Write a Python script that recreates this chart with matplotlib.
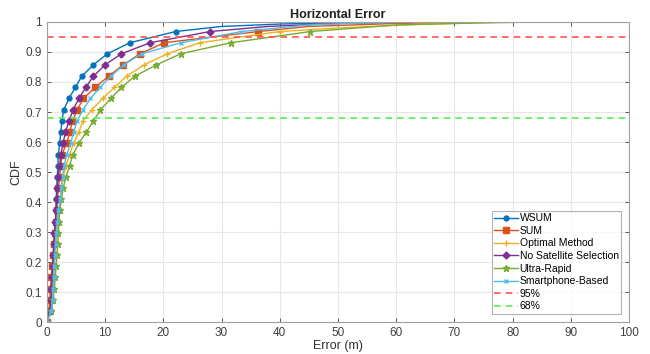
import matplotlib
matplotlib.use("Agg")
import matplotlib.pyplot as plt

plt.rcParams["font.family"] = ["Liberation Sans", "DejaVu Sans"]

# CDF levels at which markers are drawn
cdf_levels = [0.0, 0.037, 0.074, 0.111, 0.149, 0.186, 0.223, 0.260, 0.297, 0.334,
              0.372, 0.409, 0.446, 0.484, 0.521, 0.558, 0.596, 0.633, 0.670, 0.707,
              0.745, 0.782, 0.819, 0.857, 0.894, 0.931, 0.968]

series_names = ["WSUM", "SUM", "Optimal Method", "No Satellite Selection",
                "Ultra-Rapid", "Smartphone-Based"]

wsum_x = [0, 0.6, 0.8, 0.9, 1.0, 1.1, 1.2, 1.3, 1.4, 1.5, 1.55, 1.6, 1.7, 1.8,
          1.9, 2.0, 2.2, 2.4, 2.6, 2.9, 3.8, 4.9, 6.0, 8.0, 10.4, 14.3, 22.1]
sum_x = [0, 0.35, 0.5, 0.6, 0.8, 0.9, 1.1, 1.2, 1.35, 1.5, 1.7, 1.85, 2.0, 2.2,
         2.4, 2.6, 3.4, 3.95, 4.4, 5.2, 6.3, 8.3, 10.6, 13.1, 16.0, 20.2, 36.3]
optimal_x = [0, 0.6, 0.9, 1.0, 1.15, 1.3, 1.45, 1.6, 1.75, 1.9, 2.1, 2.3, 2.5, 2.8,
             3.3, 3.9, 4.6, 5.5, 6.2, 7.7, 9.6, 11.6, 13.7, 16.7, 20.7, 26.3, 40.0]
nosat_x = [0, 0.5, 0.7, 0.8, 0.9, 1.0, 1.1, 1.2, 1.3, 1.45, 1.6, 1.7, 1.8, 1.9,
           2.2, 2.4, 2.8, 3.2, 3.8, 4.5, 5.5, 6.7, 8.0, 10.0, 12.8, 17.8, 28.0]
ultra_x = [0, 0.8, 1.1, 1.3, 1.45, 1.6, 1.75, 1.9, 2.0, 2.1, 2.2, 2.5, 2.8, 3.3,
           3.9, 4.5, 5.5, 6.8, 8.0, 9.2, 11.0, 12.8, 15.1, 18.8, 23.0, 31.7, 45.2]
smart_x = [0, 0.8, 1.0, 1.1, 1.2, 1.25, 1.4, 1.5, 1.6, 1.8, 2.0, 2.3, 2.5, 2.7,
           3.0, 3.4, 4.1, 4.6, 5.2, 6.2, 7.5, 9.1, 11.0, 13.2, 16.3, 23.1, 33.4]

# tails of the CDF curves (line only, no markers)
wsum_tail_x = [30, 40, 55]
wsum_tail_y = [0.985, 0.993, 1.0]
sum_tail_x = [45, 60, 75]
sum_tail_y = [0.985, 0.995, 1.0]
optimal_tail_x = [50, 65, 80]
optimal_tail_y = [0.98, 0.993, 1.0]
nosat_tail_x = [38, 50, 65]
nosat_tail_y = [0.985, 0.995, 1.0]
ultra_tail_x = [60, 75, 85, 100]
ultra_tail_y = [0.99, 0.997, 1.0, 1.0]
smart_tail_x = [45, 55, 70]
smart_tail_y = [0.99, 0.997, 1.0]

xs = [wsum_x, sum_x, optimal_x, nosat_x, ultra_x, smart_x]
tails_x = [wsum_tail_x, sum_tail_x, optimal_tail_x, nosat_tail_x, ultra_tail_x, smart_tail_x]
tails_y = [wsum_tail_y, sum_tail_y, optimal_tail_y, nosat_tail_y, ultra_tail_y, smart_tail_y]

colors = ["#0072BD", "#D95319", "#EDB120", "#7E2F8E", "#77AC30", "#4DBEEE"]
markers = ["o", "s", "+", "D", "*", "x"]
msizes = [3.5, 4, 5, 3.5, 5, 3.5]

ref_levels = [0.95, 0.68]
ref_labels = ["95%", "68%"]
ref_colors = ["#FF5555", "#55EE55"]

fig = plt.figure(figsize=(6.5, 3.54), dpi=100)
ax = fig.add_axes([0.072, 0.09, 0.896, 0.848])

for name, x, tx, ty, c, m, ms in zip(series_names, xs, tails_x, tails_y, colors, markers, msizes):
    ax.plot(x + tx, cdf_levels + ty, color=c, lw=1.0, marker=m, ms=ms,
            markevery=list(range(len(x))), label=name, markeredgewidth=1.0)

for lv, lb, c in zip(ref_levels, ref_labels, ref_colors):
    ax.plot([0, 100], [lv, lv], color=c, lw=1.2, ls=(0, (4, 3)), label=lb)

ax.set_xlim(0, 100)
ax.set_ylim(0, 1)
ax.set_xticks(range(0, 101, 10))
ax.set_yticks([i / 10 for i in range(11)])
ax.set_yticklabels(["0", "0.1", "0.2", "0.3", "0.4", "0.5", "0.6", "0.7", "0.8", "0.9", "1"])
ax.grid(True, color="#E6E6E6", lw=0.8)
ax.set_axisbelow(True)
ax.tick_params(direction="in", top=True, right=True, labelsize=8.5, colors="#404040",
               length=3, width=0.6)
for s in ax.spines.values():
    s.set_color("#A0A0A0")
    s.set_linewidth(0.8)
ax.set_xlabel("Error (m)", fontsize=9, color="#303030", labelpad=1)
ax.set_ylabel("CDF", fontsize=9, color="#303030", labelpad=2)
ax.set_title("Horizontal Error", fontsize=9, fontweight="bold", color="#202020", pad=3)

leg = ax.legend(loc="lower right", bbox_to_anchor=(0.99, 0.02), fontsize=7.5,
                frameon=True, fancybox=False, edgecolor="#A0A0A0", handlelength=2.3,
                borderpad=0.25, labelspacing=0.25, handletextpad=0.15, borderaxespad=0.2)
leg.get_frame().set_linewidth(0.8)

fig.savefig("out.png", dpi=100)
